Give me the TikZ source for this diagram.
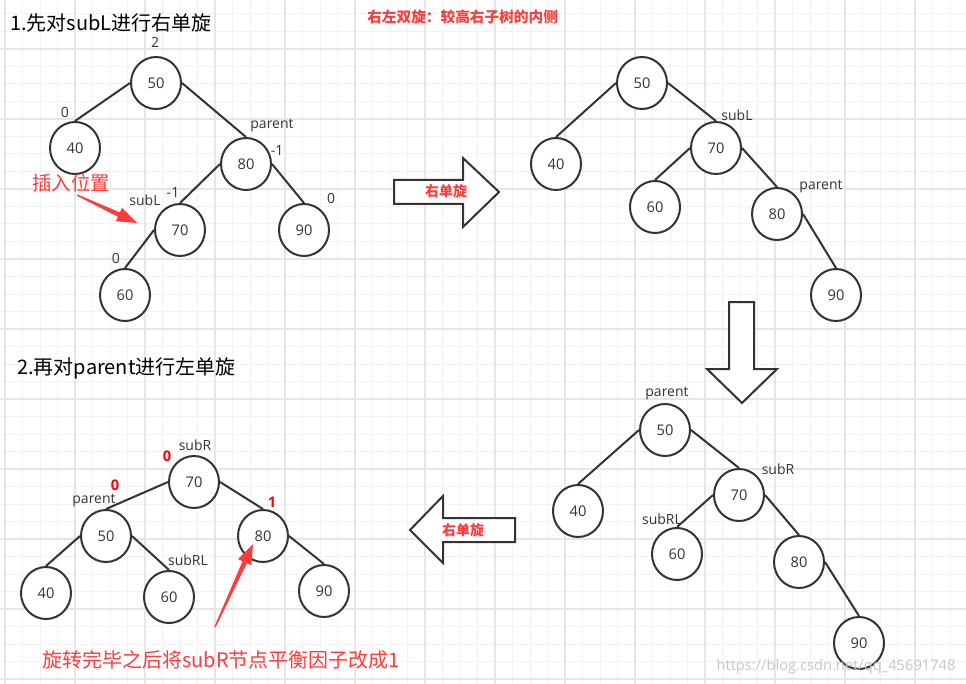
\documentclass[tikz,border=0pt]{standalone}
\usepackage{fontspec}
\setmainfont{Open Sans}
\newfontfamily\cjk{Noto Sans CJK SC}
\usetikzlibrary{shapes.geometric,calc}
\definecolor{ink}{HTML}{333333}
\definecolor{lred}{HTML}{FF3B3B}
\definecolor{gmin}{HTML}{F2F2F2}
\definecolor{gmaj}{HTML}{E6E6E6}
\newcommand{\redtaper}[2]{%
  \coordinate (#1h) at ($(#2)!15pt!(#1)$);
  \fill[lred] ($(#1)!0.5pt!90:(#2)$) -- ($(#1h)!1.8pt!90:(#2)$) -- ($(#1h)!5.5pt!90:(#2)$) -- (#2)
     -- ($(#1h)!5.5pt!-90:(#2)$) -- ($(#1h)!1.8pt!-90:(#2)$) -- ($(#1)!0.5pt!-90:(#2)$) -- cycle;}
\begin{document}
\begin{tikzpicture}[x=0.75pt,y=-0.75pt,
  tn/.style={ellipse,draw=ink,fill=white,line width=1.5pt,minimum width=37.5pt,minimum height=39pt,inner sep=0pt,text=ink,font=\fontsize{11}{13}\selectfont},
  edge/.style={draw=ink,line width=1.5pt},
  lab/.style={inner sep=0pt,text=ink,font=\fontsize{10.5}{12}\selectfont},
  rnum/.style={inner sep=0pt,text=red,font=\bfseries\fontsize{11}{12}\selectfont},
  ttl/.style={inner sep=0pt,anchor=west,text=black,font=\cjk\fontsize{15}{17}\selectfont},
  redtxt/.style={inner sep=0pt,text=lred,font=\cjk\fontsize{14.6}{17}\selectfont},
  blk/.style={draw=ink,fill=white,line width=1.5pt,line join=miter},
  blklab/.style={inner sep=0pt,text=lred,font=\cjk\bfseries\fontsize{10.5}{12}\selectfont}
]
\useasboundingbox (0,0) rectangle (966,684);
\fill[white] (0,0) rectangle (966,684);
% grid
\foreach \k in {0,...,55} \draw[gmin,line width=0.75pt] ({5+17.5*\k},0) -- ({5+17.5*\k},684);
\foreach \k in {0,...,38} \draw[gmin,line width=0.75pt] (0,{14+17.5*\k}) -- (966,{14+17.5*\k});
\foreach \k in {0,...,13} \draw[gmaj,line width=1.5pt] ({5+70*\k},0) -- ({5+70*\k},684);
\foreach \k in {0,...,9} \draw[gmaj,line width=1.5pt] (0,{49+70*\k}) -- (966,{49+70*\k});

% titles
\node[ttl] (t1) at (10,23) {1.先对subL进行右单旋};
\node[ttl] (t2) at (17,368) {2.再对parent进行左单旋};
\node[inner sep=0pt,anchor=west,text=lred,font=\cjk\bfseries\fontsize{11}{13}\selectfont] (hdr) at (367,17) {右左双旋：较高右子树的内侧};

% tree 1
\node[tn] (A50) at (156,83) {50};
\node[tn] (A40) at (75,148) {40};
\node[tn] (A80) at (246,164) {80};
\node[tn] (A70) at (180,230) {70};
\node[tn] (A90) at (304,230) {90};
\node[tn] (A60) at (125,295) {60};
\draw[edge] (A50.west) -- (A40.north);
\draw[edge] (A50.east) -- (A80.north);
\draw[edge] (A80.west) -- (A70.north);
\draw[edge] (A80.east) -- (A90.north);
\draw[edge] (A70.west) -- (A60.north);
\node[lab] (l1) at (155,42) {2};
\node[lab] (l2) at (65,112) {0};
\node[lab] (l3) at (272,126) {parent};
\node[lab] (l4) at (277,151) {-1};
\node[lab] (l5) at (173,193) {-1};
\node[lab] (l6) at (145,200) {subL};
\node[lab] (l7) at (331,198) {0};
\node[lab] (l8) at (116,258) {0};
\node[redtxt] (ins) at (71,183) {插入位置};
\coordinate (ra) at (77,195);
\coordinate (rat) at (137,223);
\redtaper{ra}{rat}

% right block arrow
\draw[blk] (394,180) -- (463,180) -- (463,158) -- (499,192) -- (463,227) -- (463,204) -- (394,204) -- cycle;
\node[blklab] (b1) at (446,191) {右单旋};

% tree 2
\node[tn] (B50) at (642,83) {50};
\node[tn] (B40) at (556,164) {40};
\node[tn] (B70) at (716,148) {70};
\node[tn] (B60) at (655,207) {60};
\node[tn] (B80) at (777,214) {80};
\node[tn] (B90) at (836,295) {90};
\draw[edge] (B50.west) -- (B40.north);
\draw[edge] (B50.east) -- (B70.north);
\draw[edge] (B70.west) -- (B60.north);
\draw[edge] (B70.east) -- (B80.north);
\draw[edge] (B80.east) -- (B90.north);
\node[lab] (m1) at (737,115) {subL};
\node[lab] (m2) at (821,187) {parent};

% down block arrow
\draw[blk] (729,302) -- (754,302) -- (754,369) -- (777,369) -- (742,403) -- (707,369) -- (729,369) -- cycle;

% tree 3
\node[tn] (C50) at (665,430) {50};
\node[tn] (C40) at (578,511) {40};
\node[tn] (C70) at (739,495) {70};
\node[tn] (C60) at (677,554) {60};
\node[tn] (C80) at (799,562) {80};
\node[tn] (C90) at (859,643) {90};
\draw[edge] (C50.west) -- (C40.north);
\draw[edge] (C50.east) -- (C70.north);
\draw[edge] (C70.west) -- (C60.north);
\draw[edge] (C70.east) -- (C80.north);
\draw[edge] (C80.east) -- (C90.north);
\node[lab] (n1) at (667,394) {parent};
\node[lab] (n2) at (778,469) {subR};
\node[lab] (n3) at (662,519) {subRL};

% left block arrow
\draw[blk] (410,530) -- (443,496) -- (443,518) -- (515,518) -- (515,542) -- (443,542) -- (443,563) -- cycle;
\node[blklab] (b2) at (463,530) {右单旋};

% tree 4
\node[tn] (D70) at (194,482) {70};
\node[tn] (D50) at (106,536) {50};
\node[tn] (D80) at (263,536) {80};
\node[tn] (D40) at (46,593) {40};
\node[tn] (D60) at (169,597) {60};
\node[tn] (D90) at (324,591) {90};
\draw[edge] (D70.west) -- (D50.north);
\draw[edge] (D70.east) -- (D80.north);
\draw[edge] (D50.west) -- (D40.north);
\draw[edge] (D50.east) -- (D60.north);
\draw[edge] (D80.east) -- (D90.north);
\node[lab] (o1) at (195,445) {subR};
\node[rnum] (o2) at (167,456) {0};
\node[rnum] (o3) at (115,485) {0};
\node[lab] (o4) at (94,501) {parent};
\node[rnum] (o5) at (272,502) {1};
\node[lab] (o6) at (188,560) {subRL};
\coordinate (rb) at (215,627);
\coordinate (rbt) at (253,544);
\redtaper{rb}{rbt}
\node[inner sep=0pt,anchor=west,text=lred,font=\cjk\fontsize{15}{17}\selectfont] (bot) at (42,660) {旋转完毕之后将subR节点平衡因子改成1};

% watermark
\node[inner sep=0pt,text=black!22,font=\fontsize{11}{13}\selectfont] (wm) at (836,667) {https://blog.csdn.net/qq\_45691748};
\end{tikzpicture}
\end{document}
